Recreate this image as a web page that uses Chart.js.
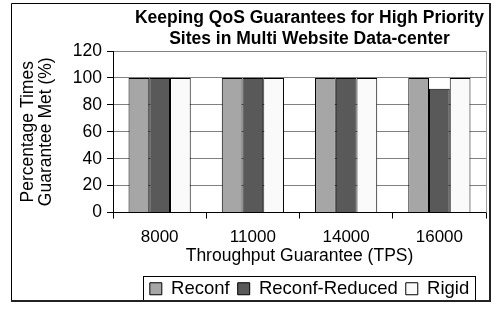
<!DOCTYPE html>
<html>
<head>
<meta charset="utf-8">
<script src="https://cdn.jsdelivr.net/npm/chart.js@4/dist/chart.umd.min.js"></script>
<style>
html,body{margin:0;padding:0;background:#fff;}
#wrap{width:494px;height:310px;position:relative;}
</style>
</head>
<body>
<div id="wrap"><canvas id="c" width="494" height="310"></canvas></div>
<script>
const categories = ['8000', '11000', '14000', '16000'];
const reconf = [100, 100, 100, 100];
const reconfReduced = [100, 100, 100, 92];
const rigid = [100, 100, 100, 100];
const yTicks = [0, 20, 40, 60, 80, 100, 120];

const FONT = 'Arial, "Liberation Sans", sans-serif';

const frame = {
  id: 'frame',
  afterLayout(chart) {
    const dx = 10;
    const t = chart.titleBlock;
    if (t) { t.left += dx; t.right += dx; }
    const lg = chart.legend;
    if (lg) { lg.left += dx; lg.right += dx; }
  },
  afterDraw(chart) {
    const ctx = chart.ctx;
    const a = chart.chartArea;
    ctx.save();
    ctx.strokeStyle = '#a0a0a0';
    ctx.lineWidth = 1;
    ctx.beginPath();
    ctx.moveTo(Math.round(a.right) + 0.5, a.top);
    ctx.lineTo(Math.round(a.right) + 0.5, a.bottom);
    ctx.stroke();
    const lg = chart.legend;
    if (lg && lg.legendHitBoxes && lg.legendHitBoxes.length) {
      let l = Infinity, r = -Infinity, t = Infinity, b = -Infinity;
      lg.legendHitBoxes.forEach(h => {
        l = Math.min(l, h.left); r = Math.max(r, h.left + h.width);
        t = Math.min(t, h.top); b = Math.max(b, h.top + h.height);
      });
      const cy = (t + b) / 2;
      ctx.strokeStyle = '#000';
      ctx.strokeRect(Math.round(l) - 6.5, Math.round(cy - 13) + 0.5, Math.round(r - l) + 13, 25);
    }
    ctx.strokeStyle = '#000';
    ctx.lineWidth = 1;
    ctx.beginPath();
    ctx.moveTo(11.5, 301); ctx.lineTo(11.5, 3.5); ctx.lineTo(490, 3.5);
    ctx.stroke();
    ctx.lineWidth = 2;
    ctx.strokeStyle = '#222';
    ctx.beginPath();
    ctx.moveTo(490, 3); ctx.lineTo(490, 301); ctx.lineTo(11, 301);
    ctx.stroke();
    ctx.restore();
  }
};

new Chart(document.getElementById('c'), {
  type: 'bar',
  data: {
    labels: categories,
    datasets: [
      { label: 'Reconf', data: reconf, backgroundColor: '#a6a6a6', borderColor: '#000', borderWidth: 1 },
      { label: 'Reconf-Reduced', data: reconfReduced, backgroundColor: '#595959', borderColor: '#000', borderWidth: 1 },
      { label: 'Rigid', data: rigid, backgroundColor: '#fafafa', borderColor: '#000', borderWidth: 1 }
    ]
  },
  plugins: [frame],
  options: {
    responsive: false,
    animation: false,
    devicePixelRatio: 1,
    layout: { padding: { left: 12, right: 8, top: 4, bottom: 2 } },
    datasets: { bar: { categoryPercentage: 0.667, barPercentage: 1.0 } },
    plugins: {
      title: {
        display: true,
        fullSize: false,
        text: ['Keeping QoS Guarantees for High Priority', 'Sites in Multi Website Data-center'],
        font: { family: FONT, size: 17.5, weight: 'bold', lineHeight: 1.2 },
        color: '#000',
        padding: { top: 4, bottom: 1 }
      },
      legend: {
        position: 'bottom',
        fullSize: false,
        labels: {
          font: { family: FONT, size: 18.5 },
          color: '#000',
          boxWidth: 12,
          boxHeight: 12,
          padding: 8
        }
      },
      tooltip: { enabled: false }
    },
    scales: {
      x: {
        grid: { display: true, offset: true, drawOnChartArea: false, drawTicks: true, tickLength: 6, color: '#000' },
        border: { color: '#000' },
        ticks: { font: { family: FONT, size: 17, lineHeight: 1.1 }, color: '#000', padding: 9 },
        title: { display: true, text: 'Throughput Guarantee (TPS)', font: { family: FONT, size: 17.5, lineHeight: 1.1 }, color: '#000', padding: { top: -9, bottom: 6 } }
      },
      y: {
        min: 0, max: 120,
        afterBuildTicks(scale) { scale.ticks = yTicks.map(v => ({ value: v })); },
        afterFit(scale) { scale.width = 101; },
        grid: { color: '#808080', tickLength: 6, tickColor: '#000' },
        border: { color: '#000' },
        ticks: { font: { family: FONT, size: 17.5 }, color: '#000', padding: 5 },
        title: { display: true, text: ['Percentage Times', 'Guarantee Met (%)'], font: { family: FONT, size: 17.5, lineHeight: 1.05 }, color: '#000', padding: { top: 7, bottom: 0 } }
      }
    }
  }
});
</script>
</body>
</html>
